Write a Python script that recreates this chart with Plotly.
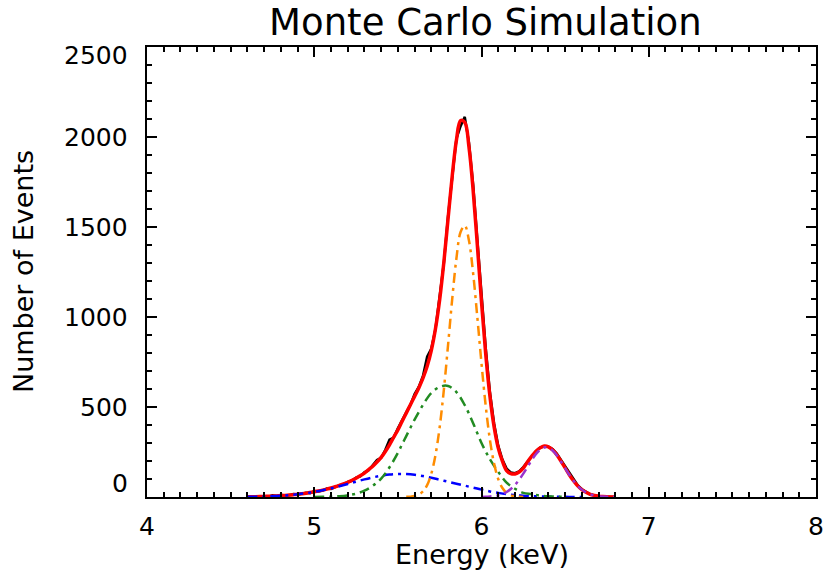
import plotly.graph_objects as go

# ---------------- data ----------------
energy_fine = [round(4.600 + 0.025 * i, 3) for i in range(89)]  # 4.600 .. 6.800 keV

events_data = [0, 0, 1, 0, 4, 2, 9, 5, 12, 8, 10, 16, 13, 20, 24, 21,
               33, 31, 36, 47, 44, 55, 66, 70, 84, 90, 108, 115, 137, 149, 176, 205,
               218, 262, 318, 330, 381, 430, 470, 512, 572, 612, 672, 780, 825, 935, 1104, 1300,
               1560, 1790, 1990, 2060, 2112, 1968, 1735, 1430, 1110, 830, 585, 410, 285, 208, 158, 136,
               132, 142, 166, 196, 229, 255, 274, 281, 279, 266, 242, 206, 172, 131, 96, 66,
               43, 27, 15, 9, 4, 2, 1, 0, 0]

total_fit = [1, 2, 2, 2.4, 3.1, 3.9, 4.8, 5.9, 7.2, 8.8, 10.6, 12.7, 15.1, 18, 21.1, 24.6,
             28.8, 33.3, 38.2, 43.8, 49.9, 56.8, 64.2, 72.5, 81.8, 92.5, 104, 118, 133, 152, 171, 194,
             220, 253, 290, 332, 373, 420, 466, 513, 559, 606, 660, 726, 815, 936, 1097, 1305,
             1546, 1784, 1982, 2091, 2081, 1945, 1704, 1401, 1084, 797, 564, 392, 273, 199, 147, 130,
             128, 139, 160, 195, 226, 253, 273, 283, 279, 262, 235, 199, 162, 124, 90, 62,
             41, 26, 15, 8.5, 4.6, 2.3, 1.1, 0.5, 0.2]

energy_blue = [4.60, 4.65, 4.70, 4.75, 4.80, 4.85, 4.90, 4.95, 5.00, 5.05, 5.10, 5.15, 5.20, 5.25,
               5.30, 5.35, 5.40, 5.45, 5.50, 5.55, 5.60, 5.65, 5.70, 5.75, 5.80, 5.85, 5.90, 5.95,
               6.00, 6.05, 6.10, 6.15, 6.20, 6.25, 6.30, 6.35, 6.40, 6.45, 6.50, 6.55, 6.60]
comp_blue = [1.2, 1.9, 3.1, 4.8, 7.2, 10.6, 15.1, 21.1, 28.5, 37.5, 48, 59.8, 72.5, 85.4,
             97.8, 109, 118, 124.6, 127.7, 127.4, 123.5, 116.5, 107, 96, 85, 74, 63, 52,
             41, 31, 23, 16, 11, 7, 4.5, 3, 2, 1.2, 0.7, 0.4, 0.2]

energy_green = [5.000, 5.050, 5.100, 5.150, 5.200, 5.250, 5.300, 5.350, 5.400, 5.450, 5.500,
                5.525, 5.550, 5.575, 5.600, 5.625, 5.650, 5.675, 5.700, 5.750, 5.800, 5.850,
                5.900, 5.950, 6.000, 6.050, 6.100, 6.150, 6.200, 6.250, 6.300, 6.350, 6.400,
                6.450, 6.500]
comp_green = [0.3, 0.7, 1.9, 4.4, 9.3, 18.5, 35, 62, 102, 165, 245,
              292, 338, 385, 430, 472, 512, 548, 578, 612, 617, 583,
              510, 410, 300, 210, 140, 80, 46, 23, 16, 8, 4,
              2, 1]

energy_orange = [round(5.550 + 0.025 * i, 3) for i in range(29)]  # 5.550 .. 6.250
comp_orange = [0.7, 2, 5.5, 14, 31, 66, 130, 234, 389, 596, 844, 1101, 1325, 1472, 1508,
               1425, 1242, 999, 742, 508, 320, 187, 100, 50, 23, 10, 4, 1.3, 0.4]

energy_purple = [round(6.000 + 0.025 * i, 3) for i in range(33)]  # 6.000 .. 6.800
comp_purple = [0.6, 1.3, 2.7, 5.2, 9.6, 16.9, 28, 44.6, 67, 96, 130, 167, 205, 238, 262, 275,
               273, 258, 232, 197, 160, 123, 90, 62, 41, 25.6, 15, 8.5, 4.6, 2.3, 1.1, 0.5, 0.2]

x_ticks = [4, 5, 6, 7, 8]
y_ticks = [0, 500, 1000, 1500, 2000, 2500]

# ---------------- figure ----------------
FONT = "DejaVu Sans, Verdana, sans-serif"
DASHDOT = "10px,5px,3px,5px"

fig = go.Figure()
fig.add_trace(go.Scatter(x=energy_fine, y=events_data, mode="lines",
                         line=dict(color="black", width=2.5)))
fig.add_trace(go.Scatter(x=energy_fine, y=total_fit, mode="lines",
                         line=dict(color="#FF0000", width=3.5, shape="spline")))
fig.add_trace(go.Scatter(x=energy_blue, y=comp_blue, mode="lines",
                         line=dict(color="#0000FF", width=2.5, dash=DASHDOT, shape="spline")))
fig.add_trace(go.Scatter(x=energy_green, y=comp_green, mode="lines",
                         line=dict(color="#228B22", width=2.5, dash=DASHDOT, shape="spline")))
fig.add_trace(go.Scatter(x=energy_orange, y=comp_orange, mode="lines",
                         line=dict(color="#FF8C00", width=2.5, dash=DASHDOT, shape="spline")))
fig.add_trace(go.Scatter(x=energy_purple, y=comp_purple, mode="lines",
                         line=dict(color="#9932CC", width=2.5, dash=DASHDOT, shape="spline")))

axis_common = dict(showline=True, linecolor="black", linewidth=2, mirror="ticks",
                   ticks="inside", ticklen=10, tickwidth=2, tickcolor="black",
                   showgrid=False, zeroline=False)

fig.update_xaxes(range=[4, 8], tickvals=x_ticks, ticktext=[str(v) for v in x_ticks],
                 tickfont=dict(family=FONT, size=25, color="black"),
                 ticklabelstandoff=6,
                 minor=dict(dtick=0.1, ticks="inside", ticklen=5, tickwidth=2,
                            tickcolor="black", showgrid=False),
                 **axis_common)
fig.update_yaxes(range=[0, 2500], tickvals=y_ticks, showticklabels=False,
                 minor=dict(dtick=100, ticks="inside", ticklen=5, tickwidth=2,
                            tickcolor="black", showgrid=False),
                 **axis_common)

annotations = []
for v in y_ticks:
    shift = 0
    if v == y_ticks[0]:
        shift = 14
    elif v == y_ticks[-1]:
        shift = -8
    annotations.append(dict(x=0, xref="paper", y=v, yref="y", text=str(v), showarrow=False,
                            xanchor="right", yanchor="middle", xshift=-17, yshift=shift,
                            font=dict(family=FONT, size=25, color="black")))
annotations.append(dict(x=0.5, xref="paper", y=0, yref="paper", text="Energy (keV)",
                        showarrow=False, xanchor="center", yanchor="middle", yshift=-57,
                        font=dict(family=FONT, size=27, color="black")))
annotations.append(dict(x=0, xref="paper", y=0.5, yref="paper", text="Number of Events",
                        showarrow=False, xanchor="center", yanchor="middle", xshift=-124,
                        textangle=-90, font=dict(family=FONT, size=27, color="black")))

fig.update_layout(
    width=836, height=581,
    margin=dict(l=147, r=14, t=47, b=84),
    paper_bgcolor="white", plot_bgcolor="white",
    showlegend=False,
    title=dict(text="Monte Carlo Simulation", x=0.5806, xanchor="center",
               y=0.962, yanchor="middle", yref="container",
               font=dict(family=FONT, size=37, color="black")),
    annotations=annotations,
)

fig.write_html("out.html")
